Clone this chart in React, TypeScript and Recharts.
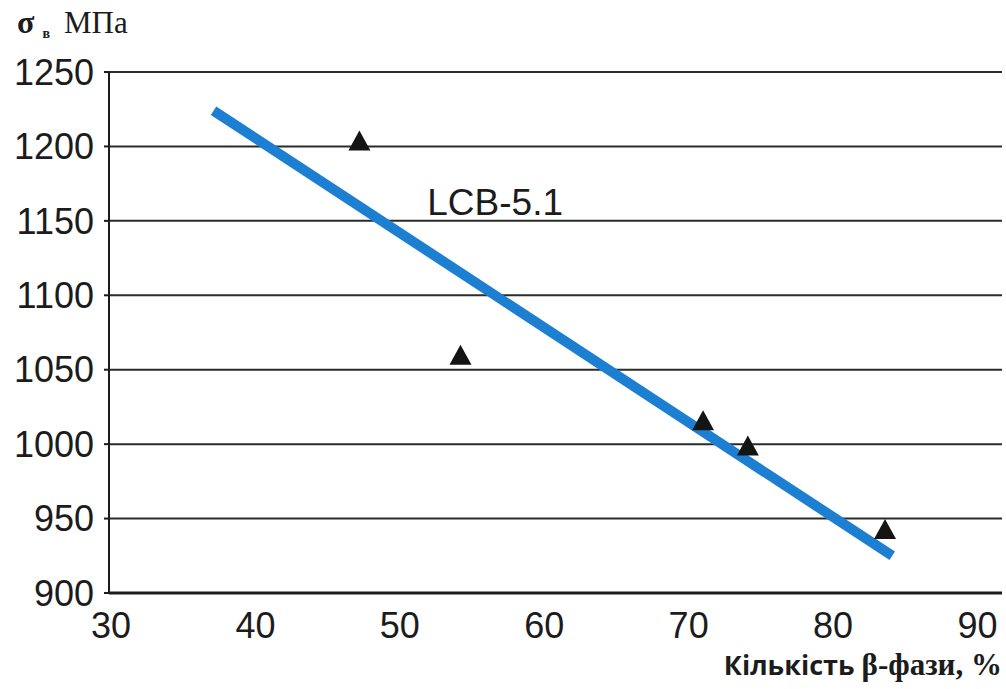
import {
  CartesianGrid,
  ComposedChart,
  Line,
  ReferenceDot,
  Scatter,
  XAxis,
  YAxis,
} from "recharts";

// кількість β-фази, %  /  σв, МПа
const betaPhase = [47.2, 54.2, 71.0, 74.1, 83.6];
const strength = [1202, 1058, 1014, 997, 941];

// лінія тренду LCB-5.1
const fitX = [37.1, 84.1];
const fitY = [1224, 925];

const xTicks = [30, 40, 50, 60, 70, 80, 90];
const yTicks = [900, 950, 1000, 1050, 1100, 1150, 1200, 1250];

const points = betaPhase.map((x, i) => ({ x, y: strength[i] }));
const fitLine = fitX.map((x, i) => ({ x, y: fitY[i] }));

const SANS = "'Liberation Sans', Arial, sans-serif";
const SERIF = "'Liberation Serif', 'Times New Roman', serif";
const TICK = { fontSize: 36, fill: "#1c1c1c", fontFamily: SANS };

const Triangle = (props: any) => {
  const { cx, cy } = props;
  if (cx == null || cy == null) return null;
  return (
    <polygon
      points={`${cx},${cy - 13} ${cx - 11},${cy + 7} ${cx + 11},${cy + 7}`}
      fill="#141414"
    />
  );
};

const YTitle = () => (
  <text x={17} y={33} fill="#1c1c1c" fontFamily={SERIF}>
    <tspan fontSize={32} fontWeight="bold">σ</tspan>
    <tspan fontSize={14} fontWeight="bold" dx={8} dy={5}>в</tspan>
    <tspan fontSize={31} dx={14} dy={-5}>МПа</tspan>
  </text>
);

const XTitle = (props: any) => {
  const { viewBox } = props;
  return (
    <text
      x={viewBox.x + viewBox.width}
      y={viewBox.y + 82}
      textAnchor="end"
      fill="#1c1c1c"
      fontWeight="bold"
    >
      <tspan fontFamily="'Open Sans', sans-serif" fontSize={27}>Кількість </tspan>
      <tspan fontFamily={SERIF} fontSize={31}>β-фази, %</tspan>
    </text>
  );
};

const SeriesName = (props: any) => {
  const { viewBox } = props;
  return (
    <text x={viewBox.x} y={viewBox.y} fontSize={37} fontFamily={SANS} fill="#1c1c1c">
      LCB-5.1
    </text>
  );
};

export default function App() {
  return (
    <div style={{ position: "absolute", left: 0, top: 0, background: "#fff" }}>
      <ComposedChart
        width={1006}
        height={689}
        margin={{ top: 72, right: 4, bottom: 36, left: 0 }}
      >
        <CartesianGrid vertical={false} stroke="#2b2b2b" strokeWidth={2} />
        <XAxis
          type="number"
          dataKey="x"
          domain={[29.86, 91.7]}
          ticks={xTicks}
          allowDataOverflow
          interval={0}
          height={60}
          tick={TICK}
          tickLine={false}
          tickSize={0}
          tickMargin={19}
          axisLine={{ stroke: "#1c1c1c", strokeWidth: 3 }}
          label={<XTitle />}
        />
        <YAxis
          type="number"
          dataKey="y"
          domain={[900, 1250]}
          ticks={yTicks}
          interval={0}
          width={109}
          tick={TICK}
          tickSize={5}
          tickMargin={10}
          tickLine={{ stroke: "#1c1c1c", strokeWidth: 2 }}
          axisLine={{ stroke: "#1c1c1c", strokeWidth: 2 }}
          label={<YTitle />}
        />
        <Line
          data={fitLine}
          dataKey="y"
          type="linear"
          stroke="#1d7fd2"
          strokeWidth={10}
          strokeLinecap="butt"
          dot={false}
          activeDot={false}
          isAnimationActive={false}
        />
        <Scatter data={points} dataKey="y" shape={<Triangle />} isAnimationActive={false} />
        <ReferenceDot x={51.9} y={1154} r={0} fill="none" stroke="none" label={<SeriesName />} />
      </ComposedChart>
    </div>
  );
}
